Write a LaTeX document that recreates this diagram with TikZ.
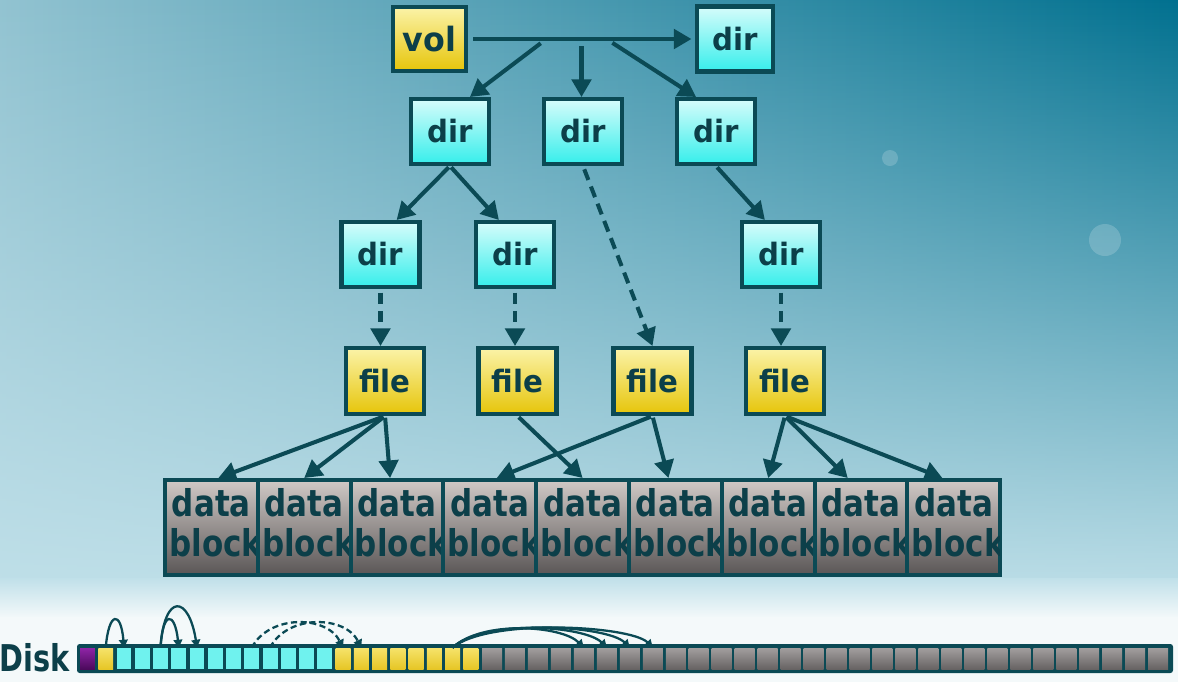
\documentclass[tikz,border=0pt]{standalone}
\usepackage{fontspec}
\setmainfont{DejaVu Sans}
\newfontfamily\labelfont[FakeStretch=0.95]{DejaVu Sans}
\newfontfamily\narrowfont[FakeStretch=0.84]{DejaVu Sans}
\newfontfamily\diskfont[FakeStretch=0.78]{DejaVu Sans}
\usetikzlibrary{arrows.meta,fadings,calc}

\definecolor{ink}{HTML}{0B4A55}
\definecolor{txt}{HTML}{0C3F49}
\definecolor{bgL}{HTML}{92C3D1}
\definecolor{bgM}{HTML}{3F92AE}
\definecolor{bgR}{HTML}{00708F}
\definecolor{bgLow}{HTML}{C0E0E9}
\definecolor{paper}{HTML}{F4F9FA}
\definecolor{cyanTop}{HTML}{D6FCFB}
\definecolor{cyanBot}{HTML}{36EEEB}
\definecolor{yelTop}{HTML}{FBF3A8}
\definecolor{yelBot}{HTML}{E6C50A}
\definecolor{grayTop}{HTML}{D0C9C6}
\definecolor{grayBot}{HTML}{5A5656}
\definecolor{cellCyan}{HTML}{6FF2EE}
\definecolor{cellYelTop}{HTML}{F6E36A}
\definecolor{cellYelBot}{HTML}{E6C626}
\definecolor{cellGrayTop}{HTML}{A29E9E}
\definecolor{cellGrayBot}{HTML}{676363}
\definecolor{cellPurTop}{HTML}{8E24A6}
\definecolor{cellPurBot}{HTML}{4C0A5C}

% pale floor light: none at the top, full at the bottom
\tikzfading[name=floorlight, top color=transparent!100,
  middle color=transparent!72, bottom color=transparent!0]

\begin{document}
\begin{tikzpicture}[x=0.02cm,y=-0.02cm,
  box/.style={draw=ink, line width=2.3pt, inner sep=0pt, text=txt,
    font=\labelfont\bfseries\fontsize{17.5}{19}\selectfont},
  dirbox/.style={box, minimum width=1.56cm, minimum height=1.30cm,
    top color=cyanTop, bottom color=cyanBot},
  filebox/.style={box, minimum width=1.56cm, minimum height=1.32cm,
    top color=yelTop, bottom color=yelBot},
  volbox/.style={filebox, minimum width=1.46cm, minimum height=1.28cm,
    font=\labelfont\bfseries\fontsize{19}{21}\selectfont},
  blockbox/.style={draw=ink, line width=2.3pt, inner sep=0pt,
    minimum width=1.856cm, minimum height=1.9cm,
    top color=grayTop, bottom color=grayBot},
  blocktext/.style={inner sep=0pt, text=txt,
    font=\narrowfont\bfseries\fontsize{21}{23}\selectfont},
  arr/.style={draw=ink, line width=2.3pt, -{Triangle[length=10pt,width=11pt]}},
  dasharr/.style={arr, dash pattern=on 6.5pt off 4pt},
  cell/.style={inner sep=0pt, minimum height=0.42cm},
  narrowcell/.style={cell, minimum width=0.30cm},
  widecell/.style={cell, minimum width=0.40cm,
    top color=cellGrayTop, bottom color=cellGrayBot},
  diskarc/.style={draw=ink, line width=1.3pt, -{Triangle[length=4.5pt,width=5pt]}},
]
\useasboundingbox (0,0) rectangle (1178,681);

% backdrop: teal sky, paler towards the floor
\shade[left color=bgL, middle color=bgM, right color=bgR] (-2,-2) rectangle (1180,600);
\fill[bgLow, path fading=floorlight] (-2,-2) rectangle (1180,600);
\shade[top color=bgLow, bottom color=paper] (-2,578) rectangle (1180,618);
\fill[paper] (-2,617) rectangle (1180,683);
\fill[white, opacity=0.18] (890,158) circle (8);
\fill[white, opacity=0.18] (1105,240) circle (16);

% volume and directory tree
\node[volbox] (vol) at (429.5,39) {vol};
\node[dirbox, minimum width=1.52cm] (dirR) at (735,39) {dir};
\node[dirbox] (d1) at (450,131.5) {dir};
\node[dirbox] (d2) at (583,131.5) {dir};
\node[dirbox] (d3) at (716,131.5) {dir};
\node[dirbox] (e1) at (380.5,254.5) {dir};
\node[dirbox] (e2) at (515,254.5) {dir};
\node[dirbox] (e3) at (781,254.5) {dir};

% files
\node[filebox] (f1) at (385,381) {file};
\node[filebox] (f2) at (517.5,381) {file};
\node[filebox] (f3) at (652.5,381) {file};
\node[filebox] (f4) at (785,381) {file};

% data blocks
\foreach \k in {1,...,9}{
  \node[blockbox] (bk\k) at ({165+(\k-0.5)*92.8},527.5) {};
  \begin{scope}
    \clip ($(bk\k.south west)+(2.3,-2.3)$) rectangle ($(bk\k.north east)+(-2.3,2.3)$);
    \node[blocktext, anchor=base] (dt\k) at ({165+(\k-0.5)*92.8},516) {data};
    \node[blocktext, anchor=base west] (bt\k) at ({165+(\k-1)*92.8+4},556) {block};
  \end{scope}
}

% links from the volume
\draw[arr, shorten <=3pt, shorten >=2pt] (vol.east) -- (dirR.west);
\coordinate (j1) at ($(vol.east)!0.345!(dirR.west)$);
\coordinate (j2) at ($(vol.east)!0.50!(dirR.west)$);
\coordinate (j3) at ($(vol.east)!0.61!(dirR.west)$);
\draw[arr, shorten <=4pt] (j1) -- (d1.60);
\draw[arr, shorten <=4pt] (j2) -- (j2 |- d2.north);
\draw[arr, shorten <=4pt] (j3) -- (d3.120);

% directory links
\draw[arr, shorten <=1pt] (d1.south) -- (e1.65);
\draw[arr, shorten <=1pt] (d1.south) -- (e2.115);
\draw[arr, shorten <=1pt] (d3.south) -- (e3.115);
\draw[dasharr, shorten <=2pt] (d2.south) -- (f3.north);
\draw[dasharr, shorten <=2pt] (e1.south) -- (e1.south |- f1.north);
\draw[dasharr, shorten <=2pt] (e2.south) -- (e2.south |- f2.north);
\draw[dasharr, shorten <=2pt] (e3.south) -- (e3.south |- f4.north);

% file to data block links
\draw[arr, shorten <=1pt] (f1.south) -- (bk1.82);
\draw[arr, shorten <=1pt] (f1.south) -- (bk2.north);
\draw[arr, shorten <=1pt] (f1.south) -- (bk3.98);
\draw[arr, shorten <=1pt] (f2.south) -- (bk5.north);
\draw[arr, shorten <=1pt] (f3.south) -- (bk4.82);
\draw[arr, shorten <=1pt] (f3.south) -- (bk6.98);
\draw[arr, shorten <=1pt] (f4.south) -- (bk7.north);
\draw[arr, shorten <=1pt] (f4.south) -- (bk8.105);
\draw[arr, shorten <=1pt] (f4.south) -- (bk9.103);

% disk strip
\node[anchor=base west, inner sep=0pt, text=txt,
  font=\diskfont\bfseries\fontsize{21}{24}\selectfont] (disk) at (-1,671) {Disk};
\fill[ink, rounded corners=1.5pt] (77,644) rectangle (1173,673);
\node[narrowcell, top color=cellPurTop, bottom color=cellPurBot] (c1) at (87.5,658.5) {};
\node[narrowcell, top color=cellYelTop, bottom color=cellYelBot] (c2) at ({87.5+18.25},658.5) {};
\foreach \i in {3,...,14}
  \node[narrowcell, fill=cellCyan] (c\i) at ({87.5+(\i-1)*18.25},658.5) {};
\foreach \i in {15,...,22}
  \node[narrowcell, top color=cellYelTop, bottom color=cellYelBot] (c\i) at ({87.5+(\i-1)*18.25},658.5) {};
\foreach \i in {23,...,52}
  \node[widecell] (c\i) at ({492+(\i-23)*22.97},658.5) {};

% block moves along the disk
\draw[diskarc] (c2.north) .. controls +(3,-37) and +(-3,-37) .. (c3.north);
\draw[diskarc] (c5.north) .. controls +(2,-37) and +(-4,-37) .. (c6.north);
\draw[diskarc] (c5.north) .. controls +(4,-56) and +(-8,-52) .. (c7.north);
\draw[diskarc, dash pattern=on 3.5pt off 2pt] (c10.north) .. controls +(18,-34) and +(-16,-32) .. (c15.north);
\draw[diskarc, dash pattern=on 3.5pt off 2pt] (c11.north) .. controls +(18,-34) and +(-16,-32) .. (c16.north);
\draw[diskarc] (c21.north) .. controls +(30,-28) and +(-22,-22) .. (c27.north);
\draw[diskarc] (c21.north) .. controls +(32,-29) and +(-22,-22) .. (c28.north);
\draw[diskarc] (c21.north) .. controls +(34,-30) and +(-22,-22) .. (c29.north);
\draw[diskarc] (c21.north) .. controls +(36,-30) and +(-22,-22) .. (c30.north);
\end{tikzpicture}
\end{document}
